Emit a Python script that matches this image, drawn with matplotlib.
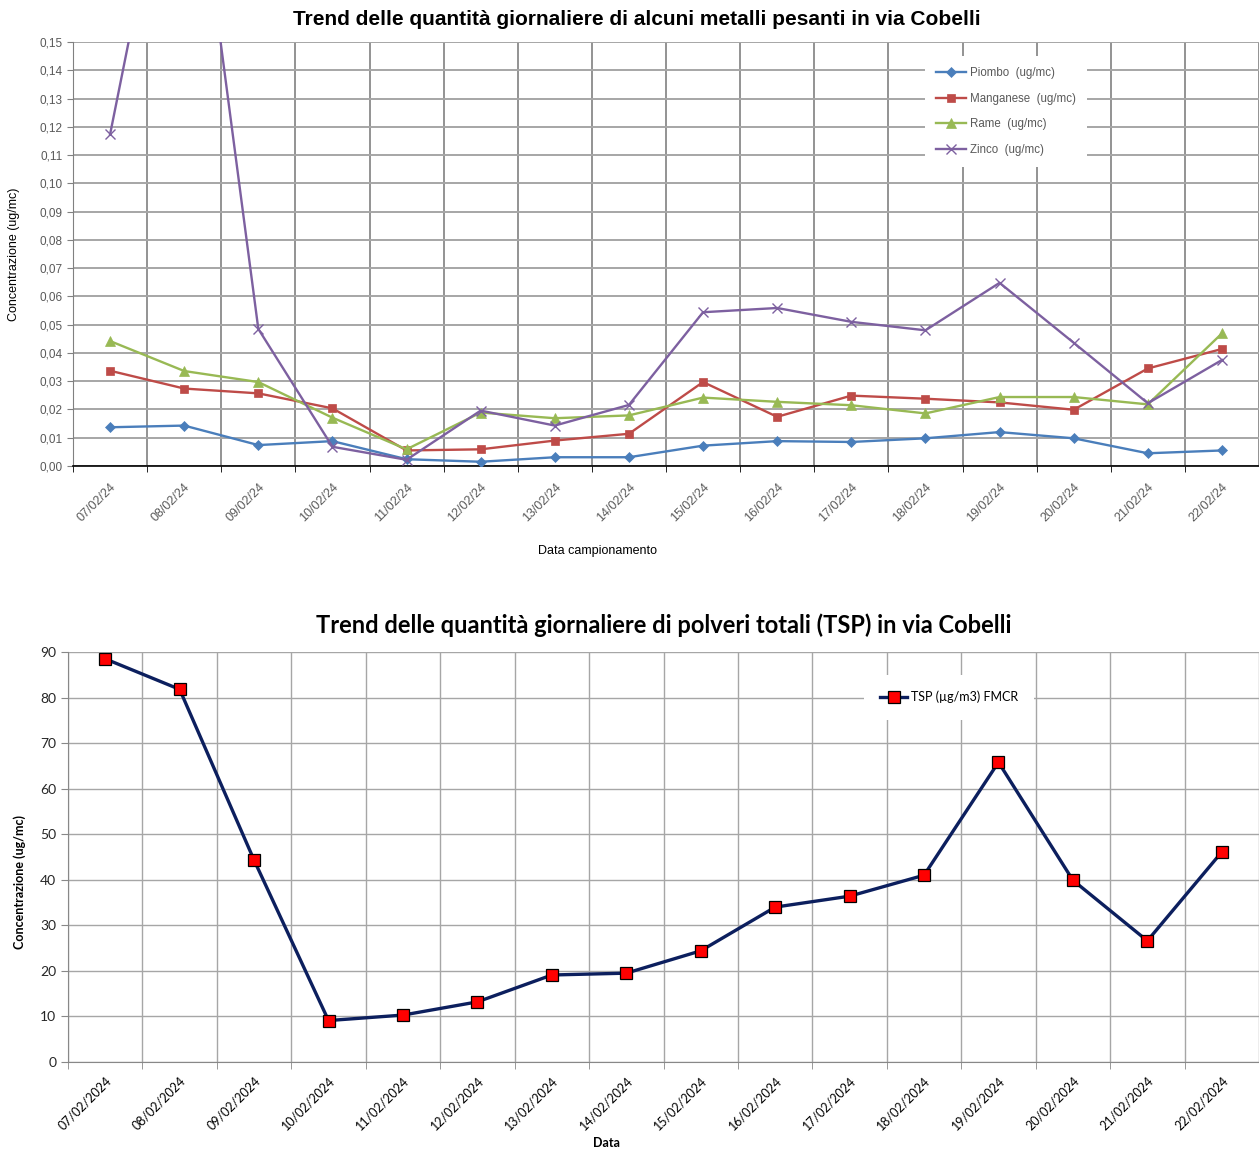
import matplotlib
matplotlib.use("Agg")
import matplotlib.pyplot as plt
from matplotlib.ticker import FuncFormatter, FixedLocator

# date di campionamento
giorni = ["07/02", "08/02", "09/02", "10/02", "11/02", "12/02", "13/02", "14/02",
          "15/02", "16/02", "17/02", "18/02", "19/02", "20/02", "21/02", "22/02"]
etichette_brevi = [g + "/24" for g in giorni]
etichette_lunghe = [g + "/2024" for g in giorni]

# metalli (ug/mc)
piombo = [0.0137, 0.0143, 0.0074, 0.0088, 0.0024, 0.0015, 0.0031, 0.0031,
          0.0072, 0.0088, 0.0085, 0.0098, 0.0120, 0.0098, 0.0045, 0.0055]
manganese = [0.0337, 0.0274, 0.0257, 0.0204, 0.0055, 0.0059, 0.0090, 0.0114,
             0.0297, 0.0174, 0.0249, 0.0238, 0.0225, 0.0199, 0.0345, 0.0414]
rame = [0.0442, 0.0336, 0.0297, 0.0171, 0.0059, 0.0189, 0.0169, 0.0179,
        0.0242, 0.0227, 0.0215, 0.0186, 0.0244, 0.0244, 0.0218, 0.0469]
zinco = [0.1173, 0.2480, 0.0485, 0.0068, 0.0022, 0.0196, 0.0143, 0.0216,
         0.0544, 0.0559, 0.0510, 0.0480, 0.0648, 0.0436, 0.0222, 0.0375]

# polveri totali
tsp = [88.5, 81.8, 44.3, 9.1, 10.3, 13.2, 19.1, 19.5,
       24.4, 34.0, 36.4, 41.0, 65.8, 39.9, 26.6, 46.1]

W, H = 1259, 1151
fig = plt.figure(figsize=(W / 100, H / 100), dpi=100)

x = list(range(len(giorni)))
bordi = [i - 0.5 for i in range(len(giorni) + 1)]

# ---------------- grafico metalli ----------------
ARIAL = ["Liberation Sans", "DejaVu Sans"]
ax1 = fig.add_axes([73 / W, 1 - 466 / H, 1 - 73 / W, (466 - 42) / H])
serie = [
    (piombo, "Piombo  (ug/mc)", "#4A7EBB", "D", 5.5),
    (manganese, "Manganese  (ug/mc)", "#BE4B48", "s", 6),
    (rame, "Rame  (ug/mc)", "#98B954", "^", 6.5),
    (zinco, "Zinco  (ug/mc)", "#7D60A0", "x", 7.5),
]
for valori, nome, col, mk, ms in serie:
    ax1.plot(x, valori, color=col, lw=1.7, marker=mk, markersize=ms,
             markeredgewidth=1.0 if mk == "x" else 0.5, markeredgecolor=col,
             label=nome, zorder=3)

ax1.set_xlim(-0.5, 15.5)
ax1.set_ylim(0, 0.15)
ax1.set_yticks([i / 100 for i in range(16)])
ax1.yaxis.set_major_formatter(FuncFormatter(lambda v, p: f"{v:.2f}".replace(".", ",")))
ax1.xaxis.set_major_locator(FixedLocator(x))
ax1.xaxis.set_minor_locator(FixedLocator(bordi))
ax1.set_xticklabels(etichette_brevi, rotation=45, ha="right", rotation_mode="anchor",
                    fontsize=9, color="#595959", family=ARIAL)
ax1.tick_params(axis="x", which="major", length=0, pad=11)
ax1.tick_params(axis="x", which="minor", length=4, direction="out", color="black")
ax1.tick_params(axis="y", length=4, direction="out", color="#808080",
                labelsize=8.5, labelcolor="#595959")
for t in ax1.get_yticklabels():
    t.set_family(ARIAL)
ax1.grid(axis="y", color="#a6a6a6", lw=1.4, zorder=0)
ax1.grid(axis="x", which="minor", color="#808080", lw=1.2, zorder=0)
for s in ["top", "right"]:
    ax1.spines[s].set_visible(False)
ax1.spines["left"].set_color("#808080")
ax1.spines["bottom"].set_color("black")
ax1.spines["bottom"].set_linewidth(1.2)
ax1.set_ylabel("Concentrazione (ug/mc)", fontsize=9, family=ARIAL)
ax1.yaxis.set_label_coords(-(73 - 20) / 1186, 0.5)
ax1.set_xlabel("Data campionamento", fontsize=9, family=ARIAL)
ax1.xaxis.set_label_coords((597 - 73) / 1186, -(545 - 466) / 424)
ax1.set_title("Trend delle quantità giornaliere di alcuni metalli pesanti in via Cobelli",
              fontsize=15, fontweight="bold", family=ARIAL, pad=12,
              x=(637 - 73) / 1186)
leg1 = ax1.legend(loc="upper left", bbox_to_anchor=(0.718, 0.968), frameon=True,
                  fancybox=False, edgecolor="none", facecolor="white", framealpha=1,
                  prop={"family": ARIAL, "size": 8.3}, labelspacing=1.17,
                  handlelength=2.6, handletextpad=0.3, borderpad=1.0, borderaxespad=0)
for t in leg1.get_texts():
    t.set_color("#595959")
leg1.set_zorder(5)

# ---------------- grafico TSP ----------------
CAL = ["Lato", "DejaVu Sans"]
ax2 = fig.add_axes([68 / W, 1 - 1062 / H, 1 - 68 / W, (1062 - 652) / H])
ax2.plot(x, tsp, color="#0C1F5E", lw=2.4, marker="s", markersize=9,
         markerfacecolor="#FF0000", markeredgecolor="black", markeredgewidth=0.9,
         label="TSP (µg/m3) FMCR", zorder=3)
ax2.set_xlim(-0.5, 15.5)
ax2.set_ylim(0, 90)
ax2.set_yticks(range(0, 91, 10))
ax2.xaxis.set_major_locator(FixedLocator(x))
ax2.xaxis.set_minor_locator(FixedLocator(bordi))
ax2.set_xticklabels(etichette_lunghe, rotation=45, ha="right", rotation_mode="anchor",
                    fontsize=9, color="black", family=CAL)
ax2.tick_params(axis="x", which="major", length=0, pad=9)
ax2.tick_params(axis="x", which="minor", length=5, direction="out", color="#888888")
ax2.tick_params(axis="y", length=5, direction="out", color="#888888",
                labelsize=10, labelcolor="#262626")
for t in ax2.get_yticklabels():
    t.set_family(CAL)
ax2.grid(axis="y", color="#a6a6a6", lw=1.0, zorder=0)
ax2.grid(axis="x", which="minor", color="#a6a6a6", lw=1.0, zorder=0)
for s in ["top", "right"]:
    ax2.spines[s].set_visible(False)
ax2.spines["left"].set_color("#888888")
ax2.spines["bottom"].set_color("#888888")
ax2.set_ylabel("Concentrazione (ug/mc)", fontsize=9, fontweight="bold", family=CAL)
ax2.yaxis.set_label_coords(-(68 - 26) / 1191, (1062 - 882) / 410)
ax2.set_xlabel("Data", fontsize=9, fontweight="bold", family=CAL)
ax2.xaxis.set_label_coords((606 - 68) / 1191, -(1137 - 1062) / 410)
ax2.set_title("Trend delle quantità giornaliere di polveri totali (TSP) in via Cobelli",
              fontsize=17, fontweight="bold", family=CAL, pad=14)
leg2 = ax2.legend(loc="upper left", bbox_to_anchor=(0.668, 0.945), frameon=True,
                  fancybox=False, edgecolor="none", facecolor="white", framealpha=1,
                  prop={"family": CAL, "size": 9}, handlelength=2.2, handletextpad=0.3,
                  borderpad=1.3, borderaxespad=0)
leg2.set_zorder(5)

fig.savefig("out.png", dpi=100)
